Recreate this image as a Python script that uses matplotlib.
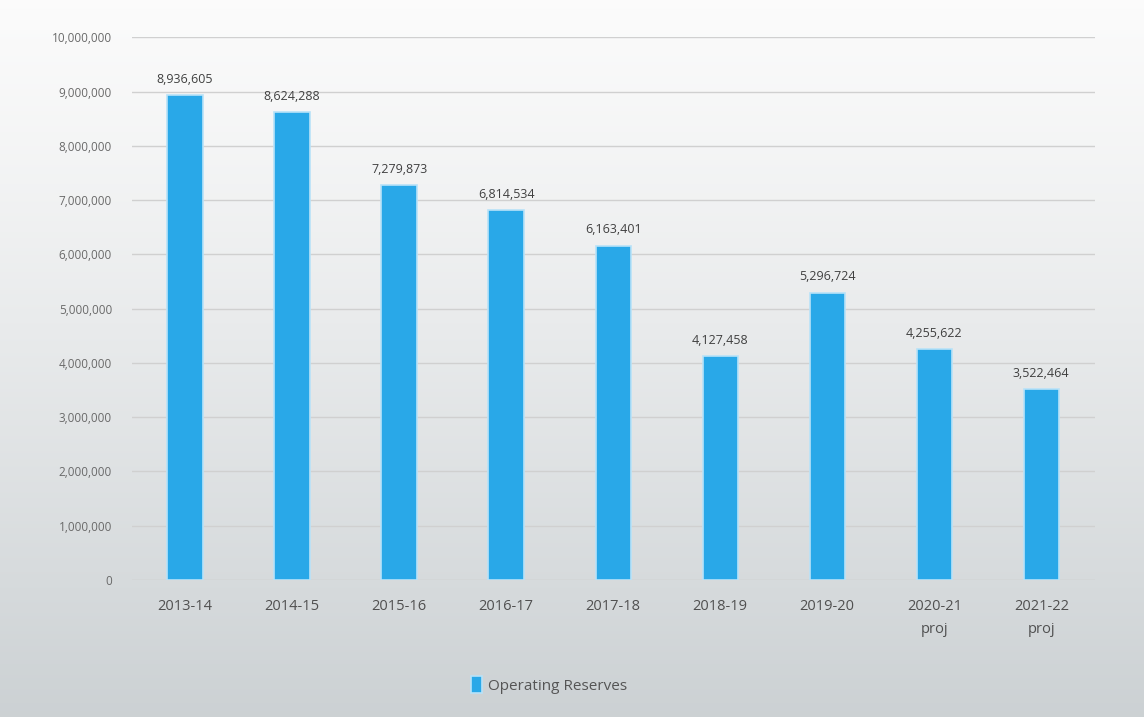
import matplotlib.pyplot as plt
import numpy as np
from matplotlib.ticker import FuncFormatter

years = ['2013-14', '2014-15', '2015-16', '2016-17', '2017-18',
         '2018-19', '2019-20', '2020-21\nproj', '2021-22\nproj']
reserves = [8936605, 8624288, 7279873, 6814534, 6163401,
            4127458, 5296724, 4255622, 3522464]

plt.rcParams['font.family'] = ['Open Sans', 'DejaVu Sans']

fig = plt.figure(figsize=(11.44, 7.17), dpi=100)

# gradient background
bg = fig.add_axes([0, 0, 1, 1], zorder=-10)
grad = np.linspace(0, 1, 256).reshape(-1, 1)
top = np.array([0.985, 0.985, 0.985])
bot = np.array([0.80, 0.82, 0.83])
img = top + (bot - top) * grad[:, :, None] ** 1.2
bg.imshow(img, aspect='auto', extent=[0, 1, 0, 1])
bg.set_axis_off()

ax = fig.add_axes([0.115, 0.191, 0.842, 0.757])
ax.patch.set_alpha(0)
x = np.arange(len(years))
bars = ax.bar(x, reserves, width=0.33, color='#29a8e8',
              edgecolor='#b8e2f8', linewidth=1.2, label='Operating Reserves', zorder=3)

for xi, v in zip(x, reserves):
    ax.text(xi, v + 170000, f'{v:,}', ha='center', va='bottom',
            fontsize=9, color='#404040')

ax.set_xlim(-0.5, len(years) - 0.5)
ax.set_ylim(0, 10000000)
ax.set_yticks(np.arange(0, 10000001, 1000000))
ax.yaxis.set_major_formatter(FuncFormatter(lambda v, p: f'{int(v):,}'))
ax.set_xticks(x)
ax.set_xticklabels(years, linespacing=1.7)
ax.tick_params(axis='y', length=0, labelsize=8.5, labelcolor='#6a6a6a', pad=14)
ax.tick_params(axis='x', length=0, labelsize=10.5, labelcolor='#505050', pad=14)
ax.grid(axis='y', color='#d0d0d0', linewidth=1, zorder=0)
for s in ax.spines.values():
    s.set_visible(False)
ax.axhline(0, color='#d0d0d0', linewidth=1, zorder=1)

fig.legend(handles=[bars], labels=['Operating Reserves'], loc='center',
           bbox_to_anchor=(0.48, 0.045), frameon=False, fontsize=11,
           handlelength=0.7, handleheight=1.4, handletextpad=0.4,
           labelcolor='#555555')

fig.savefig('out.png', dpi=100)
